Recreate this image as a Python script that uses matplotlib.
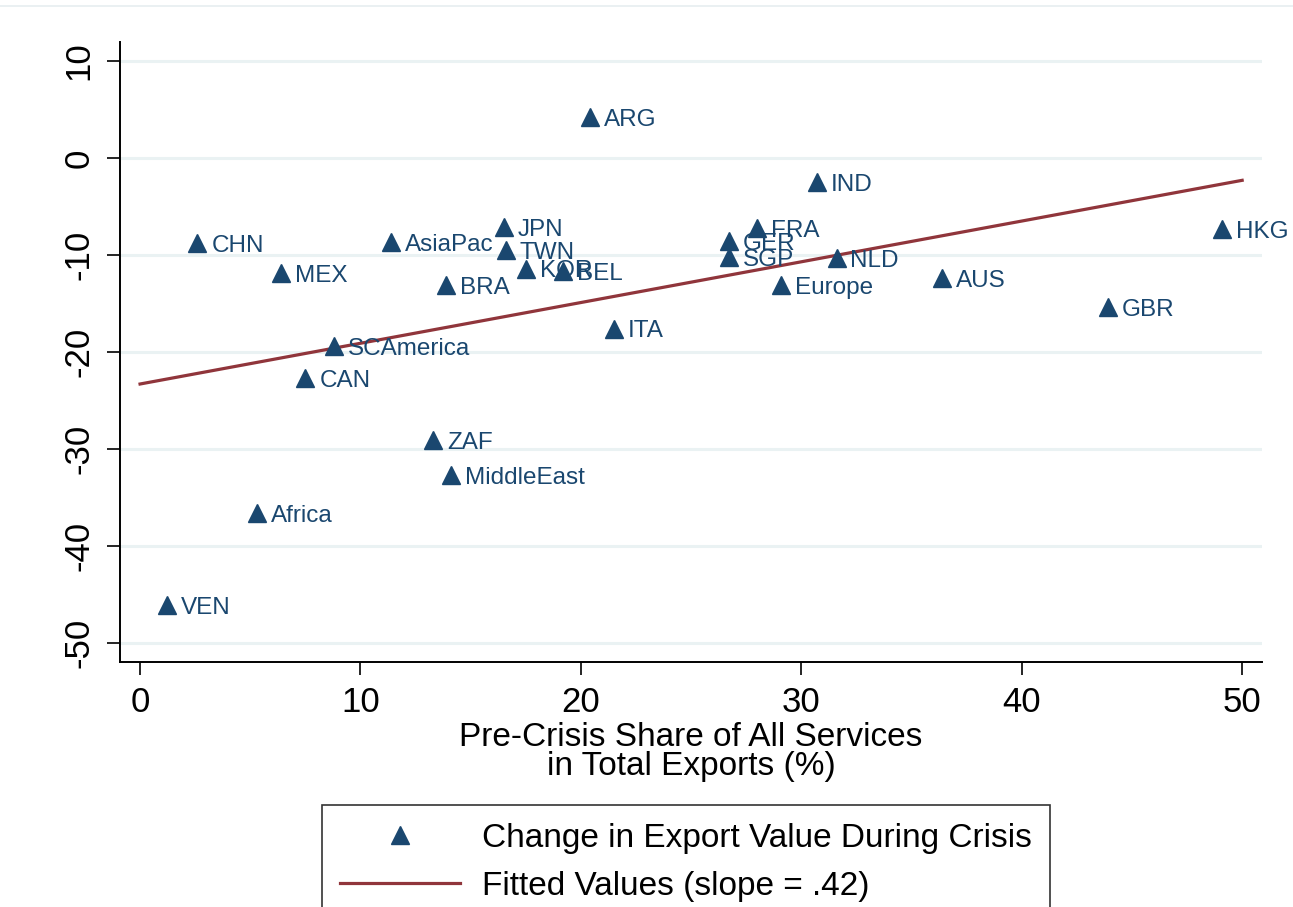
import matplotlib
matplotlib.use("Agg")
import matplotlib.pyplot as plt
from matplotlib.lines import Line2D

plt.rcParams['font.family'] = ['Liberation Sans', 'DejaVu Sans']
plt.rcParams['axes.unicode_minus'] = False

# Data
countries = ["ARG", "IND", "HKG", "CHN", "AsiaPac", "JPN", "TWN", "KOR", "BEL", "MEX",
             "BRA", "FRA", "GER", "SGP", "NLD", "Europe", "AUS", "GBR", "ITA",
             "SCAmerica", "CAN", "ZAF", "MiddleEast", "Africa", "VEN"]
service_share = [20.4, 30.7, 49.1, 2.6, 11.4, 16.5, 16.6, 17.5, 19.2, 6.4,
                 13.9, 28.0, 26.7, 26.7, 31.6, 29.1, 36.4, 43.9, 21.5,
                 8.8, 7.5, 13.3, 14.1, 5.3, 1.2]
export_change = [4.2, -2.5, -7.3, -8.8, -8.7, -7.1, -9.5, -11.4, -11.7, -11.9,
                 -13.1, -7.2, -8.6, -10.2, -10.3, -13.1, -12.4, -15.4, -17.6,
                 -19.4, -22.7, -29.1, -32.7, -36.6, -46.1]
fit_x = [0, 50]
fit_y = [-23.3, -2.3]

x_ticks = [0, 10, 20, 30, 40, 50]
y_ticks = [10, 0, -10, -20, -30, -40, -50]

navy = "#1a476f"
maroon = "#90353b"

fig = plt.figure(figsize=(12.93, 9.07), dpi=100)
ax = fig.add_axes([120 / 1293, 1 - 662 / 907, (1262 - 120) / 1293, (662 - 42) / 907])

ax.plot(service_share, export_change, linestyle="none", marker="^", ms=13.5,
        color=navy, zorder=3)
ax.plot(fit_x, fit_y, color=maroon, lw=2.3, zorder=2)

for name, x, y in zip(countries, service_share, export_change):
    ax.annotate(name, (x, y), xytext=(10, -2), textcoords="offset points",
                ha="left", va="center", fontsize=17.5, color=navy, zorder=4)

ax.set_xlim(-0.91, 50.9)
ax.set_ylim(-51.96, 11.96)
ax.set_xticks(x_ticks)
ax.set_yticks(y_ticks)
ax.tick_params(axis="both", direction="out", length=9.5, width=1.2,
               labelsize=25, pad=8)
plt.setp(ax.get_yticklabels(), rotation=90, va="center")

ax.yaxis.grid(True, color="#eaf2f3", lw=2.2)
ax.set_axisbelow(True)
for side in ["top", "right"]:
    ax.spines[side].set_visible(False)
for side in ["left", "bottom"]:
    ax.spines[side].set_linewidth(1.4)

ax.set_xlabel("Pre-Crisis Share of All Services\nin Total Exports (%)",
              fontsize=24, linespacing=0.9, labelpad=2)

handles = [
    Line2D([], [], linestyle="none", marker="^", ms=13.5, color=navy),
    Line2D([], [], color=maroon, lw=2.3),
]
labels = ["Change in Export Value During Crisis", "Fitted Values (slope = .42)"]
leg = fig.legend(handles, labels, loc="upper left",
                 bbox_to_anchor=(322 / 1293, 1 - 805 / 907),
                 borderaxespad=0, frameon=True, fancybox=False,
                 edgecolor="black", numpoints=1, handlelength=3.6,
                 handletextpad=0.66, borderpad=0.54, labelspacing=0.5,
                 prop={"size": 24})
leg.get_frame().set_linewidth(1.2)

fig.add_artist(Line2D([0, 1], [1 - 6 / 907, 1 - 6 / 907], transform=fig.transFigure,
                      color="#e6eef0", lw=1.2))

fig.savefig("out.png", dpi=100)
